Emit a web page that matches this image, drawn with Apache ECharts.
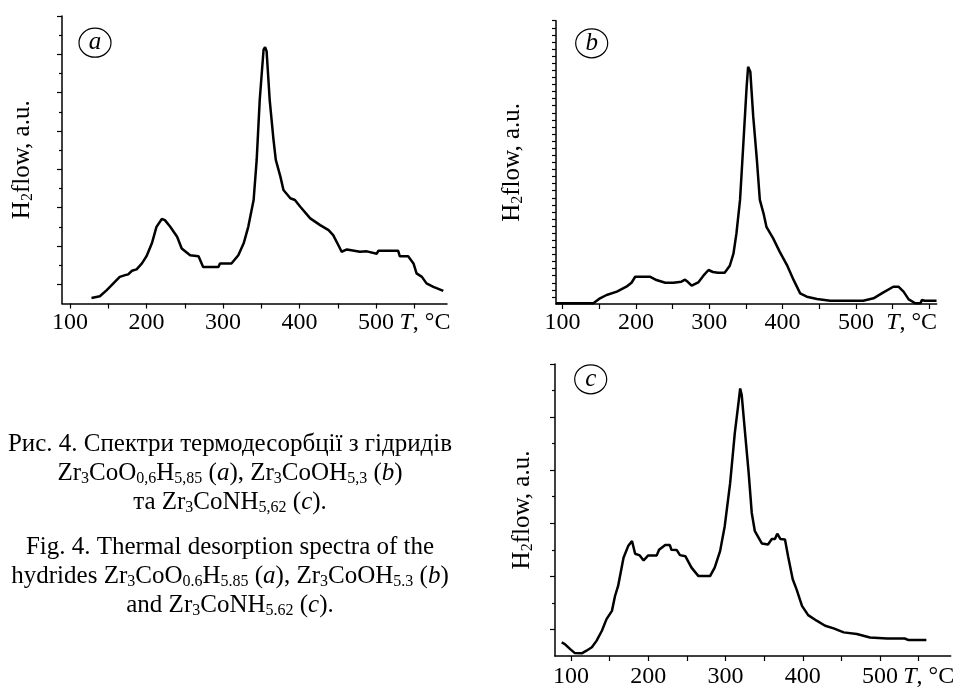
<!DOCTYPE html>
<html><head><meta charset="utf-8">
<script src="https://cdn.jsdelivr.net/npm/echarts@6/dist/echarts.min.js"></script>
<style>html,body{margin:0;padding:0;background:#fff}#c{width:959px;height:689px}</style>
</head><body><div id="c"></div>
<script>
// ---- data ----
const tempA = [128,139,148,165,172,176,181,187,194,200,207,213,220,224,231,240,246,248,257,268,274,294,296,311,320,327,333,340,344,348,353,355,357,361,366,369,375,379,388,394,401,414,427,438,444,453,455,462,479,488,501,503,529,531,542,549,553,560,566,575,588];
const flowA = [0.29,0.38,0.70,1.39,1.48,1.52,1.71,1.78,2.09,2.47,3.14,4.0,4.41,4.35,4.0,3.48,2.87,2.84,2.52,2.47,1.91,1.91,2.09,2.09,2.52,3.14,4.0,5.4,7.49,10.63,13.24,13.38,13.15,10.63,8.54,7.49,6.62,5.92,5.49,5.40,5.05,4.44,4.09,3.83,3.57,2.87,2.70,2.82,2.70,2.72,2.6,2.75,2.75,2.47,2.47,2.09,1.57,1.39,1.05,0.87,0.66];

const tempB = [91,142,151,160,174,187,194,199,219,228,240,251,253,262,267,271,276,285,292,299,305,312,321,328,333,337,342,346,351,353,356,360,365,369,374,378,387,396,406,415,424,433,447,465,510,524,537,551,558,565,572,581,588,590,594,610];
const flowB = [0.1,0.1,0.8,1.27,1.74,2.44,3.0,3.85,3.85,3.38,3.0,3.0,3.2,3.15,3.43,3.1,2.58,3.05,4.0,4.8,4.52,4.4,4.4,5.4,7.1,9.9,14.7,21.75,30.7,33.5,32.8,26.45,20.3,14.7,12.8,10.9,9.3,7.4,5.5,3.4,1.5,1.03,0.7,0.47,0.47,0.8,1.6,2.44,2.44,1.74,0.66,0.1,0.1,0.57,0.47,0.47];

const tempC = [88,92,99,105,114,120,127,133,140,146,153,157,161,168,174,179,181,183,189,194,200,211,214,222,228,230,237,241,248,256,265,280,286,293,299,306,312,317,319,321,325,330,334,338,347,355,360,364,367,371,377,381,387,392,399,407,418,429,440,453,470,487,509,532,537,560];
const flowC = [0.51,0.45,0.26,0.11,0.1,0.2,0.33,0.57,0.95,1.39,1.7,2.26,2.64,3.7,4.14,4.33,4.26,3.85,3.79,3.6,3.79,3.79,4.0,4.18,4.18,4.0,3.99,3.8,3.76,3.33,3.01,3.01,3.33,3.95,4.89,6.51,8.39,9.58,10.08,9.83,8.51,6.89,5.39,4.7,4.24,4.2,4.41,4.41,4.61,4.41,4.39,3.76,2.89,2.51,1.89,1.54,1.33,1.14,1.04,0.89,0.83,0.7,0.66,0.66,0.6,0.6];

const xTickValues = [100,150,200,250,300,350,400,450,500,550,600];
const xLabelValues = [100,200,300,400,500];
const yMajorA = [1,3,5,7,9,11,13,15];
const yMinorA = [2,4,6,8,10,12,14];
const yTicksB = Array.from({length:40},(_,i)=>i+1);
const yMajorC = [1,3,5,7,9,11];
const yMinorC = [2,4,6,8,10];
const yName = '{h|H}{s|2}{h|flow, a.u.}';
const unitPos = [564, 576, 563]; // where the "T, °C" unit sits on each x axis

const FONT = 'Liberation Serif';
const chart = echarts.init(document.getElementById('c'));

function xAxis(grid, min, max, unitAt, margin) {
  return {
    type:'value', gridIndex:grid, min:min, max:max,
    axisLine:{show:true, onZero:false, lineStyle:{color:'#000', width:1.5}},
    splitLine:{show:false},
    axisTick:{show:true, length:5, customValues:xTickValues.filter(v=>v>=min&&v<=max), lineStyle:{color:'#000', width:1.2}},
    axisLabel:{customValues:xLabelValues.concat([unitAt]), color:'#000', fontFamily:FONT, fontSize:24, margin:margin,
      formatter:function(v){ return v===unitAt ? '{i|T}, °C' : String(v); },
      rich:{i:{fontStyle:'italic', fontFamily:FONT, fontSize:24, color:'#000'}}}
  };
}
function yAxis(grid, max, ticks, len, withLine, name, gap) {
  const ax = {
    type:'value', gridIndex:grid, min:0, max:max, position:'left',
    axisLine:{show:withLine, onZero:false, lineStyle:{color:'#000', width:1.5}},
    splitLine:{show:false},
    axisTick:{show:true, length:len, customValues:ticks, lineStyle:{color:'#000', width:1.2}},
    axisLabel:{show:false}
  };
  if (name) {
    ax.name = name; ax.nameLocation = 'middle'; ax.nameRotate = 90; ax.nameGap = gap;
    ax.nameTextStyle = {color:'#000', fontFamily:FONT, fontSize:25,
      rich:{h:{fontFamily:FONT, fontSize:25, lineHeight:28, color:'#000'},
            s:{fontFamily:FONT, fontSize:16, lineHeight:16, verticalAlign:'bottom', color:'#000'}}};
  }
  return ax;
}
function pairs(xs, ys){ return xs.map((x,i)=>[x, ys[i]]); }
function line(xi, yi, xs, ys){
  return {type:'line', xAxisIndex:xi, yAxisIndex:yi, data:pairs(xs,ys), showSymbol:false, symbol:'none',
    lineStyle:{color:'#000', width:2.5}, itemStyle:{color:'#000'}, silent:true};
}
const capRich = {
  s:{fontFamily:FONT, fontSize:16, lineHeight:16, verticalAlign:'bottom', fill:'#000', color:'#000'},
  i:{fontFamily:FONT, fontSize:25, lineHeight:28, fontStyle:'italic', fill:'#000', color:'#000'}
};
function cap(text, y){
  return {type:'text', x:230, y:y, silent:true,
    style:{text:text, fill:'#000', fontFamily:FONT, fontSize:25, lineHeight:28, align:'center', verticalAlign:'middle', textAlign:'center', textVerticalAlign:'middle', rich:capRich}};
}
function badge(cx, cy, letter, dy){
  return [
    {type:'ellipse', shape:{cx:cx, cy:cy, rx:16, ry:14.5}, style:{fill:'none', stroke:'#000', lineWidth:1.2}, silent:true},
    {type:'text', x:cx, y:cy+dy, silent:true, style:{text:letter, fill:'#000', fontFamily:FONT, fontSize:25, fontStyle:'italic', align:'center', verticalAlign:'middle', textAlign:'center', textVerticalAlign:'middle'}}
  ];
}

chart.setOption({
  animation:false,
  backgroundColor:'#fff',
  grid:[
    {left:62, top:16, width:385, height:287.5},
    {left:556, top:20.7, width:380.7, height:283.3},
    {left:555, top:364, width:395.7, height:293}
  ],
  xAxis:[ xAxis(0, 89.5, 592.8, unitPos[0], 7), xAxis(1, 91, 610.2, unitPos[1], 7), xAxis(2, 79.3, 591.5, unitPos[2], 9) ],
  yAxis:[
    yAxis(0, 15, yMajorA, 5, true, yName, 26),
    yAxis(0, 15, yMinorA, 3, false),
    yAxis(1, 40, yTicksB, 4, true, yName, 30),
    yAxis(2, 11, yMajorC, 5, true, yName, 19),
    yAxis(2, 11, yMinorC, 3, false)
  ],
  series:[ line(0,0,tempA,flowA), line(1,2,tempB,flowB), line(2,3,tempC,flowC) ],
  graphic:[].concat(
    badge(95, 42.7, 'a', 0), badge(591.7, 43.3, 'b', 0), badge(590.7, 379.3, 'c', 0),
    [
      cap('Рис. 4. Спектри термодесорбції з гідридів', 444),
      cap('Zr{s|3}CoO{s|0,6}H{s|5,85} ({i|a}), Zr{s|3}CoOH{s|5,3} ({i|b})', 473),
      cap('та Zr{s|3}CoNH{s|5,62} ({i|c}).', 502),
      cap('Fig. 4. Thermal desorption spectra of the', 547),
      cap('hydrides Zr{s|3}CoO{s|0.6}H{s|5.85} ({i|a}), Zr{s|3}CoOH{s|5.3} ({i|b})', 576),
      cap('and Zr{s|3}CoNH{s|5.62} ({i|c}).', 605)
    ])
});
</script></body></html>
